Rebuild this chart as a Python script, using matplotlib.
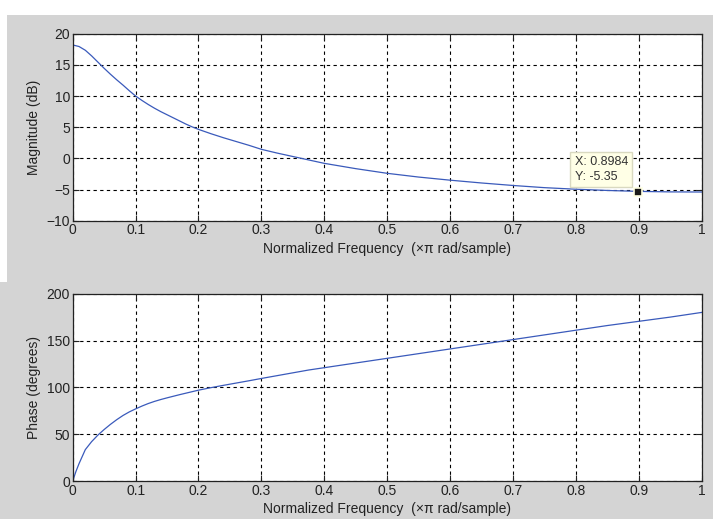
import matplotlib
matplotlib.use("Agg")
import matplotlib.pyplot as plt
from matplotlib.patches import Rectangle

plt.rcParams['font.family'] = ['Liberation Sans', 'DejaVu Sans']

# magnitude response (x pi rad/sample, dB)
mag_freq = [0.0, 0.01, 0.02, 0.03, 0.04, 0.05, 0.06, 0.07, 0.08, 0.09, 0.10,
            0.11, 0.12, 0.13, 0.14, 0.15, 0.16, 0.17, 0.18, 0.19, 0.20,
            0.22, 0.24, 0.26, 0.28, 0.30, 0.325, 0.35, 0.375, 0.40, 0.45,
            0.50, 0.55, 0.60, 0.65, 0.70, 0.75, 0.80, 0.85, 0.90, 0.95, 1.0]
mag_db = [18.2, 17.95, 17.35, 16.45, 15.45, 14.45, 13.5, 12.6, 11.75, 10.85, 10.0,
          9.3, 8.65, 8.05, 7.5, 7.0, 6.5, 6.0, 5.5, 5.05, 4.65,
          3.95, 3.3, 2.7, 2.1, 1.45, 0.85, 0.3, -0.25, -0.8, -1.65,
          -2.4, -3.0, -3.5, -3.95, -4.35, -4.7, -4.95, -5.15, -5.3, -5.38, -5.4]

# phase response (degrees)
phase_freq = [0.0, 0.005, 0.01, 0.015, 0.02, 0.03, 0.04, 0.05, 0.06, 0.07,
              0.08, 0.09, 0.10, 0.11, 0.12, 0.13, 0.14, 0.15, 0.16, 0.17,
              0.18, 0.19, 0.20, 0.22, 0.24, 0.26, 0.28, 0.30, 0.325, 0.35,
              0.375, 0.40, 0.45, 0.50, 0.55, 0.60, 0.65, 0.70, 0.75, 0.80,
              0.85, 0.90, 0.95, 1.0]
phase_deg = [0.0, 10, 18.5, 26, 33.5, 42, 49, 55, 60.5, 65.5,
             70, 73.8, 77, 80, 82.7, 85, 87, 88.8, 90.5, 92.2,
             93.8, 95.4, 97, 99.7, 102.2, 104.6, 107, 109.5, 112.5, 115.5,
             118.5, 121, 126, 131, 136, 141, 146, 151, 156, 161,
             166, 170.5, 175, 180]

tip_x = 0.8984
tip_y = -5.35

x_ticks = [0, 0.1, 0.2, 0.3, 0.4, 0.5, 0.6, 0.7, 0.8, 0.9, 1]
x_labels = ['0', '0.1', '0.2', '0.3', '0.4', '0.5', '0.6', '0.7', '0.8', '0.9', '1']
xlabel = 'Normalized Frequency  (\u00d7\u03c0 rad/sample)'

bg = '#d4d4d4'
line_col = '#3a5abb'
txt_col = '#222222'

fig = plt.figure(figsize=(7.13, 5.19), dpi=100, facecolor='white')
# grey window area of the screenshot
fig.patches.append(Rectangle((7 / 713, 0), 1, 1 - 15 / 519, transform=fig.transFigure,
                             facecolor=bg, edgecolor='none', zorder=-10))
fig.patches.append(Rectangle((0, 0), 7 / 713, 1 - 282 / 519, transform=fig.transFigure,
                             facecolor=bg, edgecolor='none', zorder=-10))

ax1 = fig.add_axes([0.102, 0.5748, 0.882, 0.3602])
ax2 = fig.add_axes([0.102, 0.0732, 0.882, 0.3609])


def style(ax):
    ax.set_facecolor('white')
    ax.grid(True, color='black', linestyle=(0, (3, 3)), linewidth=0.8)
    ax.set_xlim(0, 1)
    ax.set_xticks(x_ticks)
    ax.set_xticklabels(x_labels)
    ax.tick_params(direction='in', length=4, width=0.8, labelsize=10,
                   top=True, right=True, colors=txt_col, pad=2)
    for s in ax.spines.values():
        s.set_color(txt_col)
        s.set_linewidth(0.9)
    ax.set_xlabel(xlabel, fontsize=10, color=txt_col, labelpad=3)


ax1.plot(mag_freq, mag_db, color=line_col, linewidth=0.9)
ax1.set_ylim(-10, 20)
ax1.set_yticks([-10, -5, 0, 5, 10, 15, 20])
style(ax1)
ax1.set_ylabel('Magnitude (dB)', fontsize=10, color=txt_col, labelpad=4)

# data tip
ax1.plot([tip_x], [tip_y], marker='s', markersize=6, markerfacecolor='#1a1a1a',
         markeredgecolor='#ffffe1', markeredgewidth=1.2, zorder=5)
ax1.text(0.798, -3.9, f'X: {tip_x}\nY: {tip_y}', fontsize=9, color='#333333',
         ha='left', va='bottom', linespacing=1.3, zorder=6,
         bbox=dict(boxstyle='square,pad=0.35', facecolor='#ffffe6',
                   edgecolor='#d9d9c0', linewidth=1))

ax2.plot(phase_freq, phase_deg, color=line_col, linewidth=0.9)
ax2.set_ylim(0, 200)
ax2.set_yticks([0, 50, 100, 150, 200])
style(ax2)
ax2.set_ylabel('Phase (degrees)', fontsize=10, color=txt_col, labelpad=4)

fig.savefig('out.png', dpi=100, facecolor=fig.get_facecolor())
